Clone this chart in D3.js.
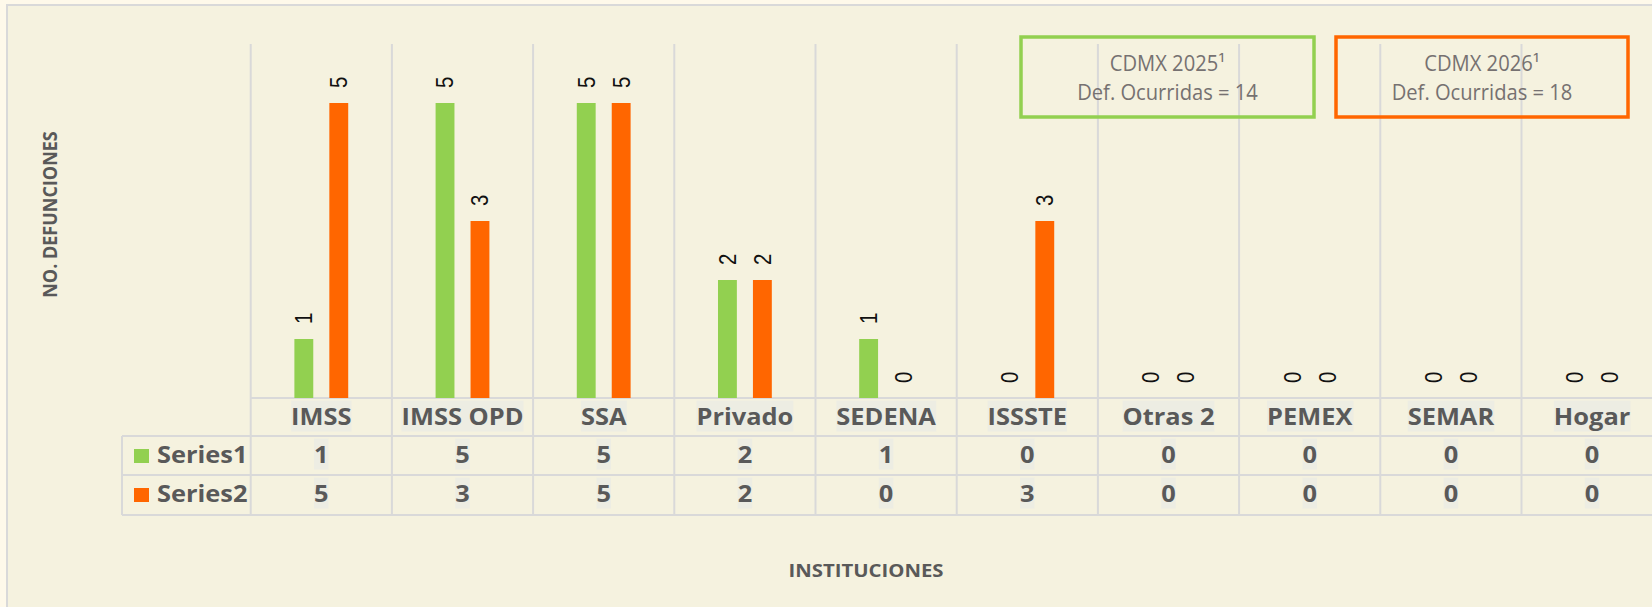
<!DOCTYPE html>
<html>
<head>
<meta charset="utf-8">
<script src="https://cdn.jsdelivr.net/npm/d3@7"></script>
<style>
  body { margin: 0; background: #fef9ea; }
  svg { display: block; }
</style>
</head>
<body>
<svg id="chart"></svg>
<script>
const categories = ["IMSS", "IMSS OPD", "SSA", "Privado", "SEDENA", "ISSSTE", "Otras 2", "PEMEX", "SEMAR", "Hogar"];
const seriesNames = ["Series1", "Series2"];
const series1 = [1, 5, 5, 2, 1, 0, 0, 0, 0, 0];
const series2 = [5, 3, 5, 2, 0, 3, 0, 0, 0, 0];
const yDomain = [0, 6];
const noteTitles = ["CDMX 2025\u00B9", "CDMX 2026\u00B9"];
const noteTexts = ["Def. Ocurridas = 14", "Def. Ocurridas = 18"];
const xTitle = "INSTITUCIONES";
const yTitle = "NO. DEFUNCIONES";

const svgWidth = 1652;
const svgHeight = 607;
const SX = 1.13; // text in the source is slightly stretched sideways
const colors = ["#92d050", "#ff6600"];
const gridColor = "#d9d9d9";
const textGray = "#595959";

const values = [series1, series2];
const data = categories.map((c, i) => ({
  cat: c,
  vals: seriesNames.map((s, j) => ({ s: s, v: values[j][i] }))
}));

const plotLeft = 250.7, step = 141.2;
const baseY = 398, topY = 44;
const rowLines = [398, 436, 475, 515];
const legendLeft = 122;

const svg = d3.select("#chart")
  .attr("width", svgWidth)
  .attr("height", svgHeight);

// chart area
svg.append("rect")
  .attr("x", 7).attr("y", 5)
  .attr("width", svgWidth + 20).attr("height", svgHeight + 20)
  .attr("fill", "#f5f2df")
  .attr("stroke", gridColor)
  .attr("stroke-width", 2);

const x0 = d3.scaleBand()
  .domain(categories)
  .range([plotLeft, plotLeft + step * categories.length]);

const x1 = d3.scaleBand()
  .domain(seriesNames)
  .range([0, x0.bandwidth()])
  .paddingInner(0.46)
  .paddingOuter(1.25);

const y = d3.scaleLinear()
  .domain(yDomain)
  .range([baseY, topY]);

function stext(g, x, y, str, rot, sx) {
  return g.append("text")
    .attr("transform", `translate(${x},${y}) scale(${sx || SX},1)` + (rot ? ` rotate(${rot})` : ""))
    .text(str);
}

// text with a faint highlight box behind it, as in the source table
function boxedText(x, y, str) {
  const g = svg.append("g")
    .attr("transform", `translate(${x},${y}) scale(${SX},1)`);
  const t = g.append("text")
    .attr("text-anchor", "middle")
    .attr("font-family", "Open Sans")
    .attr("font-weight", "bold")
    .attr("font-size", 22.5)
    .attr("fill", textGray)
    .text(str);
  const b = t.node().getBBox();
  g.insert("rect", "text")
    .attr("x", b.x).attr("y", b.y)
    .attr("width", b.width).attr("height", b.height)
    .attr("fill", "#ededE3");
}

// vertical grid lines (category boundaries)
const bounds = categories.map(c => x0(c)).concat([x0.range()[1]]);
svg.append("g")
  .selectAll("line")
  .data(bounds)
  .join("line")
  .attr("x1", d => d).attr("x2", d => d)
  .attr("y1", topY).attr("y2", rowLines[3])
  .attr("stroke", gridColor)
  .attr("stroke-width", 2);

// table horizontal lines
svg.append("g")
  .selectAll("line")
  .data(rowLines)
  .join("line")
  .attr("x1", (d, i) => i === 0 ? plotLeft : legendLeft)
  .attr("x2", svgWidth)
  .attr("y1", d => d).attr("y2", d => d)
  .attr("stroke", gridColor)
  .attr("stroke-width", 2);

svg.append("line")
  .attr("x1", legendLeft).attr("x2", legendLeft)
  .attr("y1", rowLines[1]).attr("y2", rowLines[3])
  .attr("stroke", gridColor)
  .attr("stroke-width", 2);

// bars
const groups = svg.append("g")
  .selectAll("g")
  .data(data)
  .join("g")
  .attr("transform", d => `translate(${x0(d.cat)},0)`);

groups.selectAll("rect")
  .data(d => d.vals)
  .join("rect")
  .attr("x", d => x1(d.s))
  .attr("y", d => y(d.v))
  .attr("width", x1.bandwidth())
  .attr("height", d => baseY - y(d.v))
  .attr("fill", (d, i) => colors[i]);

// bar labels
data.forEach(d => {
  d.vals.forEach(v => {
    stext(svg, x0(d.cat) + x1(v.s) + x1.bandwidth() / 2, y(v.v) - 15, v.v, -90)
      .attr("dy", "0.36em")
      .attr("font-family", "Liberation Sans")
      .attr("font-size", 20.5)
      .attr("fill", "#111");
  });
});

// table: category row and value rows
const rowBase = [425, 463, 502];
categories.forEach((c, i) => {
  const cx = x0(c) + x0.bandwidth() / 2;
  boxedText(cx, rowBase[0], c);
  boxedText(cx, rowBase[1], series1[i]);
  boxedText(cx, rowBase[2], series2[i]);
});

// legend keys in the table
seriesNames.forEach((s, i) => {
  svg.append("rect")
    .attr("x", 134).attr("y", rowBase[i + 1] - 14)
    .attr("width", 15).attr("height", 14)
    .attr("fill", colors[i]);
  stext(svg, 157, rowBase[i + 1], s)
    .attr("font-family", "Open Sans")
    .attr("font-weight", "bold")
    .attr("font-size", 22.5)
    .attr("fill", textGray);
});

// axis titles
stext(svg, 866, 577, xTitle)
  .attr("text-anchor", "middle")
  .attr("font-family", "Open Sans")
  .attr("font-weight", "bold")
  .attr("font-size", 18)
  .attr("fill", textGray);

stext(svg, 57, 214.5, yTitle, -90)
  .attr("text-anchor", "middle")
  .attr("font-family", "Open Sans")
  .attr("font-weight", "bold")
  .attr("font-size", 18)
  .attr("fill", textGray);

// annotation boxes
const noteBoxes = [[1021, 1314], [1336, 1628]];
noteTitles.forEach((t, i) => {
  const [l, r] = noteBoxes[i];
  svg.append("rect")
    .attr("x", l).attr("y", 37)
    .attr("width", r - l).attr("height", 80)
    .attr("fill", "none")
    .attr("stroke", colors[i])
    .attr("stroke-width", 3.5);
  const cx = (l + r) / 2;
  stext(svg, cx, 71, t, null, 0.96)
    .attr("text-anchor", "middle")
    .attr("font-family", "Open Sans")
    .attr("font-size", 21)
    .attr("fill", "#767171");
  stext(svg, cx, 100, noteTexts[i], null, 0.96)
    .attr("text-anchor", "middle")
    .attr("font-family", "Open Sans")
    .attr("font-size", 21)
    .attr("fill", "#767171");
});
</script>
</body>
</html>
